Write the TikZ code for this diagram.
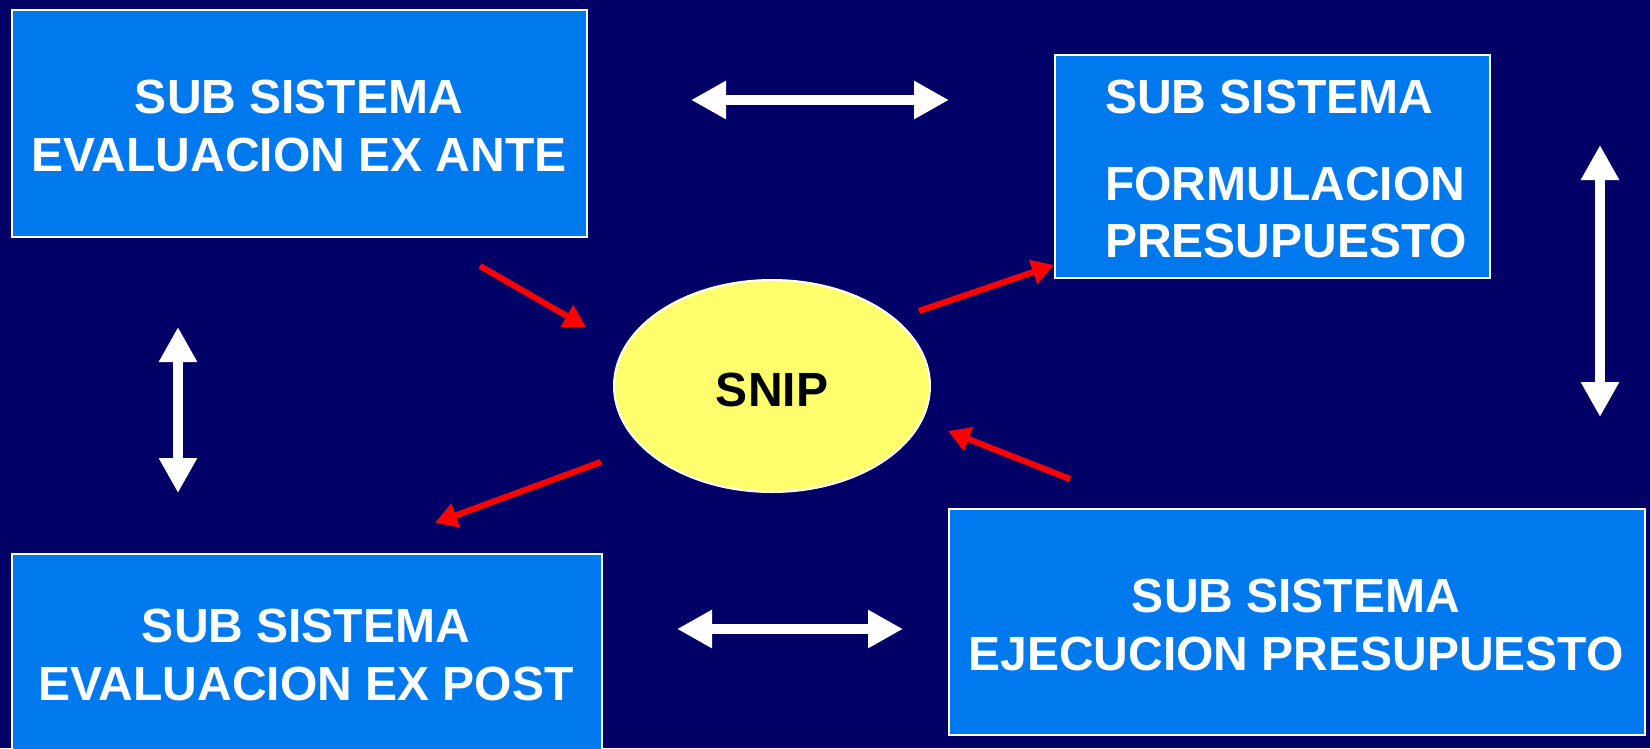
\documentclass[tikz,border=0pt]{standalone}
\usepackage{fontspec}
\setmainfont{Liberation Sans}
\usetikzlibrary{arrows.meta,shapes.geometric}
\definecolor{bgnavy}{RGB}{0,0,102}
\definecolor{boxblue}{RGB}{0,120,238}
\definecolor{snipyellow}{RGB}{255,255,110}
\begin{document}
\begin{tikzpicture}[x=1pt,y=-1pt,
  subbox/.style={draw=white,line width=2pt,fill=boxblue,anchor=north west,inner sep=0pt},
  boxtext/.style={text=white,font=\fontsize{48}{58}\selectfont\bfseries,align=center,inner sep=0pt},
  whitearrow/.style={draw=white,line width=10pt,{Triangle[length=35pt,width=36pt]}-{Triangle[length=35pt,width=36pt]}},
  redarrow/.style={draw=red,line width=6pt,-{Triangle[length=22pt,width=24pt]}}]
\useasboundingbox (0,0) rectangle (1650,748);
\clip (0,0) rectangle (1650,748);
\fill[bgnavy] (0,0) rectangle (1650,748);
% boxes
\node[subbox,minimum width=575pt,minimum height=227pt] (ante) at (11,9) {};
\node[subbox,minimum width=435pt,minimum height=223pt] (form) at (1054,54) {};
\node[subbox,minimum width=590pt,minimum height=220pt] (post) at (11,553) {};
\node[subbox,minimum width=696pt,minimum height=226pt] (ejec) at (948,508) {};
\node[ellipse,draw=white,line width=2pt,fill=snipyellow,minimum width=316pt,minimum height=212pt,inner sep=0pt] (snip) at (772,386) {};
% texts
\node[boxtext] (tante) at (299,126) {SUB SISTEMA\\EVALUACION EX ANTE};
\node[boxtext,anchor=base west] (tform1) at (1105,113) {SUB SISTEMA};
\node[boxtext,anchor=base west] (tform2) at (1105,200) {FORMULACION};
\node[boxtext,anchor=base west] (tform3) at (1105,257) {PRESUPUESTO};
\node[boxtext] (tpost) at (306,655) {SUB SISTEMA\\EVALUACION EX POST};
\node[boxtext] (tejec) at (1296,625) {SUB SISTEMA\\EJECUCION PRESUPUESTO};
\node[text=black,font=\fontsize{48}{58}\selectfont\bfseries,inner sep=0pt] (tsnip) at (772,390) {SNIP};
% white double arrows
\coordinate (a1) at (691,100); \coordinate (a2) at (949,100);
\coordinate (b1) at (677,629); \coordinate (b2) at (903,629);
\coordinate (c1) at (178,327); \coordinate (c2) at (178,493);
\coordinate (d1) at (1600,145); \coordinate (d2) at (1600,417);
\draw[whitearrow] (a1) -- (a2);
\draw[whitearrow] (b1) -- (b2);
\draw[whitearrow] (c1) -- (c2);
\draw[whitearrow] (d1) -- (d2);
% red arrows
\coordinate (r1s) at (480,266); \coordinate (r1e) at (586,327);
\coordinate (r2s) at (919,311); \coordinate (r2e) at (1054,265);
\coordinate (r3s) at (1070,479); \coordinate (r3e) at (948,431);
\coordinate (r4s) at (601,462); \coordinate (r4e) at (435,523);
\draw[redarrow] (r1s) -- (r1e);
\draw[redarrow] (r2s) -- (r2e);
\draw[redarrow] (r3s) -- (r3e);
\draw[redarrow] (r4s) -- (r4e);
\end{tikzpicture}
\end{document}
